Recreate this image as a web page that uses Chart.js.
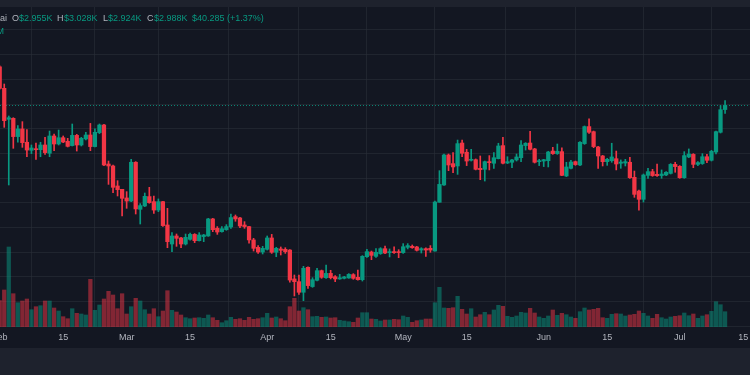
<!DOCTYPE html>
<html>
<head>
<meta charset="utf-8">
<script src="https://cdn.jsdelivr.net/npm/chart.js@4.4.1/dist/chart.umd.min.js"></script>
<style>
  body { margin: 0; background: #1e222d; width: 750px; height: 375px; overflow: hidden; font-family: "Liberation Sans", Arial, sans-serif; }
  #wrap { position: absolute; left: 0; top: 7px; width: 750px; height: 341px; background: #131722; overflow: hidden; }
  #c { position: absolute; left: 0; top: 0; }
  .lg { position: absolute; font-size: 9px; line-height: 10px; white-space: nowrap; }
  .k { color: #b2b5be; }
  .v { color: #089981; }
</style>
</head>
<body>
<div id="wrap">
  <canvas id="c" width="750" height="341"></canvas>
  <span class="lg k" style="left:0;top:6px">ai</span>
  <span class="lg k" style="left:12px;top:6px">O</span><span class="lg v" id="vO" style="left:19px;top:6px"></span>
  <span class="lg k" style="left:57px;top:6px">H</span><span class="lg v" id="vH" style="left:64px;top:6px"></span>
  <span class="lg k" style="left:103px;top:6px">L</span><span class="lg v" id="vL" style="left:108px;top:6px"></span>
  <span class="lg k" style="left:147px;top:6px">C</span><span class="lg v" id="vC" style="left:154px;top:6px"></span>
  <span class="lg v" id="chg" style="left:192px;top:6px"></span>
  <span class="lg v" style="left:-3.5px;top:19px">M</span>
</div>
<script>
// daily candles, index 0 = 1 Feb
const open = [3302,3127,2876,2884,2736,2798,2690,2625,2633,2630,
  2668,2601,2741,2676,2727,2698,2663,2746,2668,2717,
  2749,2655,2768,2830,2514,2498,2336,2309,2239,2214,
  2528,2147,2174,2250,2209,2141,2209,2020,1866,1931,
  1915,1866,1904,1944,1893,1926,1931,2069,1993,1966,
  1982,2004,2088,2077,2020,2007,1899,1839,1801,1823,
  1915,1799,1826,1823,1817,1583,1561,1475,1677,1521,
  1572,1650,1593,1628,1601,1583,1588,1591,1618,1596,
  1577,1763,1801,1766,1788,1828,1796,1804,1804,1796,
  1839,1847,1842,1817,1828,1831,1809,2204,2344,2587,
  2517,2498,2684,2609,2544,2549,2479,2471,2533,2520,
  2557,2663,2522,2528,2547,2565,2663,2684,2636,2533,
  2538,2541,2619,2598,2614,2417,2479,2533,2506,2679,
  2817,2776,2652,2579,2533,2541,2557,2520,2522,2528,
  2406,2295,2228,2422,2452,2430,2420,2425,2438,2511,
  2495,2403,2571,2592,2511,2517,2573,2544,2611,2771,
  2955];
const high = [3310,3162,2903,2889,2825,2857,2792,2668,2684,2690,
  2730,2781,2757,2789,2741,2722,2838,2754,2730,2771,
  2843,2798,2838,2835,2538,2506,2379,2309,2290,2552,
  2533,2193,2279,2325,2255,2231,2212,2155,1958,1947,
  1920,1947,1955,1950,1958,1944,2074,2074,2007,2007,
  2023,2109,2101,2082,2047,2009,1912,1853,1847,1931,
  1944,1839,1842,1836,1820,1615,1615,1685,1682,1593,
  1669,1655,1696,1653,1610,1620,1604,1626,1626,1655,
  1772,1823,1809,1828,1836,1850,1826,1844,1820,1869,
  1869,1858,1847,1836,1834,1853,2214,2460,2595,2595,
  2606,2708,2708,2633,2633,2555,2579,2538,2582,2606,
  2682,2730,2573,2552,2595,2703,2687,2779,2641,2552,
  2552,2617,2649,2676,2644,2528,2544,2538,2695,2822,
  2879,2781,2657,2584,2560,2682,2619,2547,2552,2568,
  2457,2303,2433,2479,2471,2514,2466,2452,2517,2528,
  2501,2614,2636,2598,2533,2598,2592,2625,2781,2987,
  3028];
const low = [3120,2811,2344,2641,2690,2649,2573,2598,2552,2573,
  2592,2573,2622,2668,2687,2652,2660,2619,2660,2709,
  2622,2652,2760,2501,2349,2282,2255,2093,2155,2209,
  2109,2028,2169,2196,2114,2128,2009,1836,1804,1847,
  1836,1858,1898,1877,1890,1885,1928,1966,1944,1961,
  1977,1993,2050,1998,1993,1872,1809,1790,1785,1817,
  1790,1763,1777,1790,1556,1445,1458,1407,1507,1515,
  1566,1588,1588,1583,1561,1580,1583,1588,1580,1574,
  1566,1758,1739,1758,1782,1788,1761,1790,1755,1790,
  1826,1831,1809,1793,1766,1799,1807,2204,2340,2460,
  2444,2430,2573,2501,2538,2466,2387,2376,2466,2479,
  2555,2514,2517,2484,2538,2533,2627,2628,2522,2501,
  2493,2490,2592,2592,2420,2412,2474,2503,2501,2673,
  2762,2646,2479,2498,2503,2528,2466,2479,2498,2398,
  2244,2141,2206,2398,2414,2414,2398,2420,2433,2447,
  2398,2398,2565,2484,2501,2511,2525,2538,2595,2765,
  2924];
const close = [3127,2865,2889,2736,2798,2687,2627,2644,2630,2668,
  2606,2741,2676,2727,2692,2657,2746,2668,2722,2749,
  2655,2771,2830,2506,2498,2325,2306,2236,2214,2528,
  2150,2177,2252,2201,2141,2209,2015,1885,1931,1912,
  1866,1920,1944,1893,1939,1939,2069,1982,1963,1990,
  2007,2080,2069,2012,2007,1899,1831,1801,1831,1915,
  1799,1831,1815,1804,1574,1561,1475,1669,1529,1577,
  1650,1596,1628,1593,1583,1593,1599,1620,1588,1577,
  1766,1804,1774,1799,1828,1793,1804,1796,1796,1844,
  1853,1836,1815,1828,1817,1817,2206,2349,2587,2506,
  2490,2679,2601,2538,2552,2471,2468,2533,2525,2565,
  2660,2520,2533,2547,2571,2668,2682,2633,2528,2541,
  2549,2611,2598,2617,2422,2490,2530,2509,2690,2817,
  2771,2655,2579,2533,2552,2571,2514,2530,2533,2403,
  2268,2228,2425,2452,2420,2420,2433,2447,2511,2493,
  2403,2582,2595,2511,2525,2573,2544,2617,2776,2954,
  2988];
const volume = [263,370,800,333,243,260,280,173,203,213,
  260,260,190,160,103,83,183,137,130,120,
  477,167,220,280,357,320,183,333,130,203,
  287,260,173,130,183,103,160,363,167,150,
  120,93,83,90,93,87,120,93,67,43,
  63,97,77,83,67,97,77,83,93,137,
  90,100,83,63,203,287,160,193,173,103,
  107,97,100,90,93,67,60,53,47,90,
  143,143,80,77,60,70,70,77,73,110,
  97,47,63,70,80,80,243,397,190,187,
  193,307,177,130,183,100,123,147,123,170,
  217,207,107,97,110,147,140,187,140,100,
  87,110,170,117,137,123,100,87,153,190,
  170,177,187,93,87,127,133,130,110,120,
  127,160,137,110,87,127,93,80,100,107,
  113,140,113,130,87,110,123,157,253,223,
  153];

const tickDays = [0, 14, 28, 42, 59, 73, 89, 103, 120, 134, 150, 164];
const tickLabels = ['Feb', '15', 'Mar', '15', 'Apr', '15', 'May', '15', 'Jun', '15', 'Jul', '15'];
const priceGrid = [1200, 1400, 1600, 1800, 2000, 2200, 2400, 2600, 2800, 3000, 3200, 3400, 3600];
const changeText = '$40.285 (+1.37%)';

const UP = '#089981', DOWN = '#f23645';
const UP_V = 'rgba(8,153,129,0.5)', DOWN_V = 'rgba(242,54,69,0.5)';

const last = close.length - 1;
const fmtK = v => '$' + (v / 1000).toFixed(3) + 'K';
document.getElementById('vO').textContent = fmtK(open[last]);
document.getElementById('vH').textContent = fmtK(high[last]);
document.getElementById('vL').textContent = fmtK(low[last]);
document.getElementById('vC').textContent = fmtK(close[last]);
document.getElementById('chg').textContent = changeText;

const isUp = close.map((c, i) => c >= open[i]);
const bodies = close.map((c, i) => ({ x: i, y: [open[i], c] }));
const wicks = close.map((c, i) => ({ x: i, y: [low[i], high[i]] }));
const vols = volume.map((v, i) => ({ x: i, y: v }));

// dotted last price line, behind the candles
const lastLine = {
  id: 'lastLine',
  beforeDatasetsDraw(chart) {
    const { ctx, chartArea, scales } = chart;
    const y = Math.round(scales.y.getPixelForValue(close[last])) + 0.5;
    ctx.save();
    ctx.strokeStyle = 'rgba(8,153,129,0.85)';
    ctx.lineWidth = 1;
    ctx.setLineDash([1, 2]);
    ctx.beginPath();
    ctx.moveTo(chartArea.left, y);
    ctx.lineTo(chartArea.right, y);
    ctx.stroke();
    ctx.restore();
  }
};

new Chart(document.getElementById('c'), {
  type: 'bar',
  data: {
    datasets: [
      {
        data: vols, yAxisID: 'yv', order: 3, grouped: false,
        backgroundColor: isUp.map(u => u ? UP_V : DOWN_V),
        barThickness: 3.6
      },
      {
        data: wicks, order: 2, grouped: false,
        backgroundColor: isUp.map(u => u ? UP : DOWN),
        barThickness: 1
      },
      {
        data: bodies, order: 1, grouped: false,
        backgroundColor: isUp.map(u => u ? UP : DOWN),
        barThickness: 3.6, minBarLength: 1
      }
    ]
  },
  options: {
    responsive: false,
    animation: false,
    events: [],
    layout: { padding: 0 },
    plugins: { legend: { display: false }, tooltip: { enabled: false } },
    scales: {
      x: {
        type: 'linear',
        min: 0.066,
        max: 165.5,
        offset: false,
        border: { display: false },
        grid: { color: 'rgba(42,46,57,0.6)', drawTicks: false },
        afterBuildTicks: s => { s.ticks = tickDays.map(v => ({ value: v })); },
        afterFit: s => { s.height = 21; s.paddingLeft = 0; s.paddingRight = 0; },
        ticks: {
          autoSkip: false, maxRotation: 0, minRotation: 0, padding: 5,
          color: '#b2b5be',
          font: { family: '"Liberation Sans", Arial, sans-serif', size: 9 },
          callback: v => tickLabels[tickDays.indexOf(v)]
        }
      },
      y: {
        min: 1193.7,
        max: 3785.7,
        border: { display: false },
        grid: { color: 'rgba(42,46,57,0.6)', drawTicks: false },
        afterBuildTicks: s => { s.ticks = priceGrid.map(v => ({ value: v })); },
        afterFit: s => { s.width = 0; },
        ticks: { display: false }
      },
      yv: {
        display: false,
        min: 0,
        max: 3200
      }
    }
  },
  plugins: [lastLine]
});
</script>
</body>
</html>
